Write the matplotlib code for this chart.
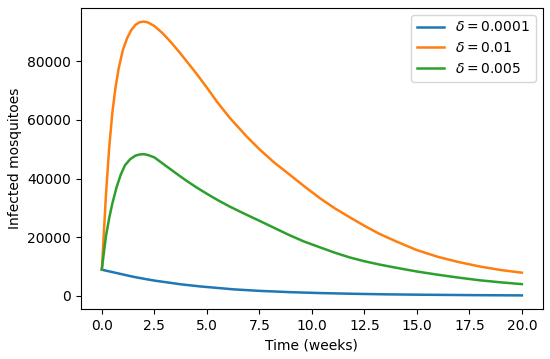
import matplotlib
matplotlib.use('Agg')
import matplotlib.pyplot as plt

# values (time in weeks, infected mosquitoes)
t_low = [0, 0.5, 1, 1.5, 2.1, 2.5, 3, 3.8, 4.7, 5.5, 6.3, 7.5, 9, 10.4, 12,
         13.5, 15, 17.5, 20]
inf_low = [8900, 8100, 7300, 6500, 5700, 5200, 4700, 3900, 3200, 2700, 2200,
           1700, 1250, 950, 700, 520, 400, 250, 150]

t_high = [0, 0.1, 0.2, 0.35, 0.5, 0.65, 0.8, 1.0, 1.2, 1.4, 1.6, 1.8, 2.0,
          2.2, 2.5, 2.9, 3.3, 3.7, 4.1, 4.5, 5.0, 5.5, 6.1, 6.9, 7.5, 8.2,
          9.0, 9.7, 10.4, 11.1, 11.8, 12.5, 13.2, 14.0, 15.0, 16.0, 17.0,
          18.0, 19.0, 20.0]
inf_high = [9000, 22000, 35000, 50500, 62500, 71000, 77500, 83800, 87800,
            90600, 92400, 93300, 93500, 93200, 92000, 89500, 86400, 83000,
            79400, 75800, 71000, 66000, 60600, 54300, 50000, 45500, 41000,
            37000, 33200, 29800, 26800, 23900, 21200, 18600, 15600, 13300,
            11500, 10000, 8800, 7900]

t_mid = [0, 0.1, 0.2, 0.35, 0.5, 0.7, 0.9, 1.1, 1.35, 1.6, 1.8, 2.0, 2.2,
         2.5, 2.9, 3.3, 3.7, 4.1, 4.5, 5.0, 5.5, 6.1, 6.7, 7.2, 7.5, 8.2,
         8.9, 9.6, 10.4, 11.1, 11.8, 12.5, 13.2, 14.0, 15.0, 16.0, 17.0,
         18.0, 19.0, 20.0]
inf_mid = [9000, 15000, 20500, 26500, 31500, 37000, 41300, 44500, 46600,
           47800, 48200, 48300, 48000, 47200, 45100, 43000, 40900, 38900,
           37000, 34800, 32700, 30400, 28300, 26600, 25600, 23200, 20800,
           18600, 16500, 14700, 13100, 11800, 10700, 9600, 8300, 7200, 6200,
           5300, 4600, 4000]

labels = [r'$\delta = 0.0001$', r'$\delta = 0.01$', r'$\delta = 0.005$']

fig = plt.figure(figsize=(5.5, 3.59), dpi=100)
ax = fig.add_subplot(111)
fig.subplots_adjust(left=0.147, right=0.987, bottom=0.139, top=0.978)

ax.plot(t_low, inf_low, label=labels[0], lw=1.8)
ax.plot(t_high, inf_high, label=labels[1], lw=1.8)
ax.plot(t_mid, inf_mid, label=labels[2], lw=1.8)

ax.set_xlabel('Time (weeks)')
ax.set_ylabel('Infected mosquitoes')
ax.legend(loc='upper right')

fig.savefig('out.png', dpi=100)
